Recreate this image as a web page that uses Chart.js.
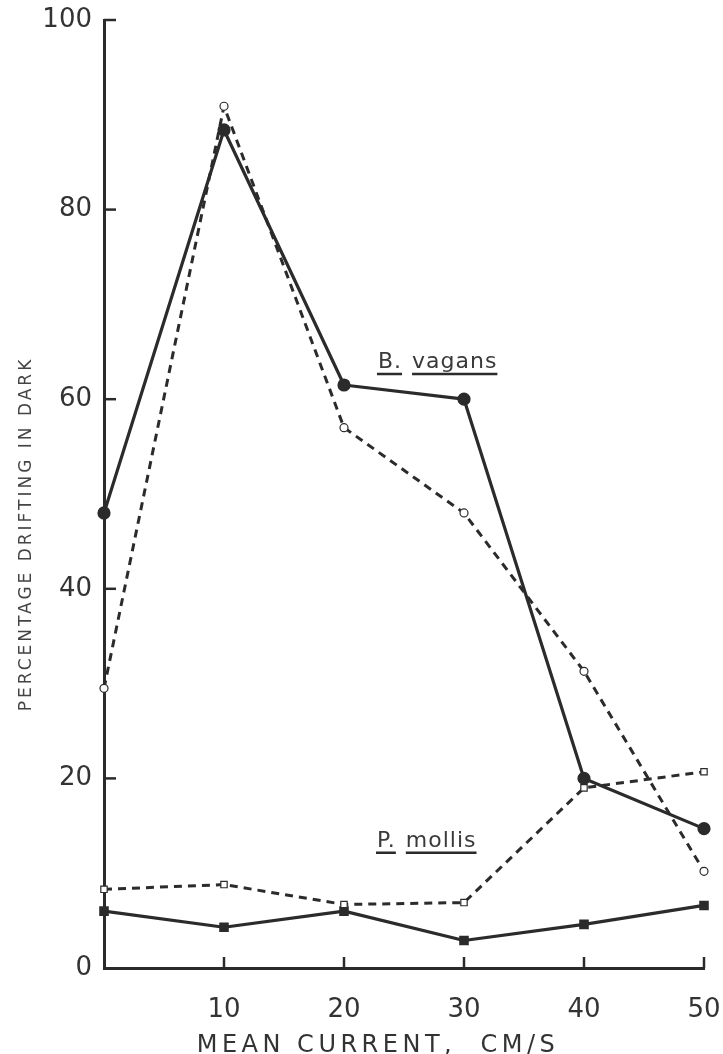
<!DOCTYPE html>
<html>
<head>
<meta charset="utf-8">
<script src="https://cdn.jsdelivr.net/npm/chart.js@4.4.1/dist/chart.umd.min.js"></script>
<style>
  html, body { margin: 0; padding: 0; background: #fff; }
  #wrap { width: 723px; height: 1054px; }
</style>
</head>
<body>
<div id="wrap"><canvas id="chart" width="723" height="1054"></canvas></div>
<script>
// Mean current (cm/s) on x
const currents = [0, 10, 20, 30, 40, 50];
// B. vagans, solid line, filled circles
const vagansSolid = [48, 88.4, 61.5, 60, 20, 14.7];
// B. vagans, dashed line, open circles
const vagansDashed = [29.5, 90.9, 57, 48, 31.3, 10.2];
// P. mollis, dashed line, open squares
const mollisDashed = [8.3, 8.8, 6.7, 6.9, 19, 20.7];
// P. mollis, solid line, filled squares
const mollisSolid = [6, 4.3, 6, 2.9, 4.6, 6.6];

const xTicks = [10, 20, 30, 40, 50];
const yTicks = [0, 20, 40, 60, 80, 100];

const ink = '#2b2b2b';
const font = "'DejaVu Sans', 'Liberation Sans', sans-serif";

function pts(ys){ return currents.map((x, i) => ({ x, y: ys[i] })); }

// inward tick marks, spaced-out axis titles, species labels
const decor = {
  id: 'decor',
  afterDraw(chart){
    const { ctx, scales: { x, y } } = chart;
    ctx.save();
    ctx.strokeStyle = ink;
    ctx.lineWidth = 2.5;
    const x0 = x.getPixelForValue(0), y0 = y.getPixelForValue(0);
    xTicks.forEach(v => {
      const px = x.getPixelForValue(v);
      ctx.beginPath(); ctx.moveTo(px, y0); ctx.lineTo(px, y0 - 11); ctx.stroke();
    });
    yTicks.slice(1).forEach(v => {
      const py = y.getPixelForValue(v);
      ctx.beginPath(); ctx.moveTo(x0, py); ctx.lineTo(x0 + 12, py); ctx.stroke();
    });

    // axis titles
    ctx.fillStyle = '#333';
    ctx.textAlign = 'center';
    ctx.textBaseline = 'alphabetic';
    ctx.font = '24px ' + font;
    ctx.letterSpacing = '4.5px';
    ctx.fillText('MEAN CURRENT,  CM/S', 378, 1052);

    ctx.save();
    ctx.fillStyle = '#444';
    ctx.font = '17px ' + font;
    ctx.letterSpacing = '3px';
    ctx.translate(31, 534);
    ctx.rotate(-Math.PI / 2);
    ctx.fillText('PERCENTAGE DRIFTING IN DARK', 0, 0);
    ctx.restore();

    // species names, underlined in two parts
    ctx.fillStyle = '#3a3a3a';
    ctx.font = '22px ' + font;
    ctx.letterSpacing = '1px';
    ctx.textAlign = 'left';
    function label(genus, species, vx, vy){
      const lx = x.getPixelForValue(vx), ly = y.getPixelForValue(vy);
      const g = genus + '.';
      ctx.fillText(g, lx, ly);
      const gw = ctx.measureText(g).width;
      const sx = lx + gw + 10;
      ctx.fillText(species, sx, ly);
      const sw = ctx.measureText(species).width;
      ctx.lineWidth = 2.5;
      ctx.beginPath();
      ctx.moveTo(lx - 1, ly + 6); ctx.lineTo(lx + gw, ly + 6);
      ctx.moveTo(sx, ly + 6); ctx.lineTo(sx + sw, ly + 6);
      ctx.stroke();
    }
    label('B', 'vagans', 22.83, 63.3);
    label('P', 'mollis', 22.75, 12.8);
    ctx.restore();
  }
};

new Chart(document.getElementById('chart'), {
  type: 'scatter',
  data: {
    datasets: [
      {
        label: 'B. vagans (dashed)',
        data: pts(vagansDashed),
        showLine: true,
        borderColor: ink,
        borderWidth: 3,
        borderDash: [8, 6],
        borderJoinStyle: 'round',
        pointStyle: 'circle',
        pointRadius: 4,
        pointBackgroundColor: '#fff',
        pointBorderColor: ink,
        pointBorderWidth: 1.2,
        clip: false,
      },
      {
        label: 'P. mollis (dashed)',
        data: pts(mollisDashed),
        showLine: true,
        borderColor: ink,
        borderWidth: 3,
        borderDash: [8, 6],
        borderJoinStyle: 'round',
        pointStyle: 'rect',
        pointRadius: 4.5,
        pointBackgroundColor: '#fff',
        pointBorderColor: ink,
        pointBorderWidth: 1.2,
        clip: false,
      },
      {
        label: 'B. vagans',
        data: pts(vagansSolid),
        showLine: true,
        borderColor: ink,
        borderWidth: 3.2,
        borderJoinStyle: 'round',
        pointStyle: 'circle',
        pointRadius: 5,
        pointBackgroundColor: ink,
        pointBorderColor: ink,
        clip: false,
      },
      {
        label: 'P. mollis',
        data: pts(mollisSolid),
        showLine: true,
        borderColor: ink,
        borderWidth: 3.2,
        borderJoinStyle: 'round',
        pointStyle: 'rect',
        pointRadius: 4.5,
        pointBackgroundColor: ink,
        pointBorderColor: ink,
        clip: false,
      },
    ]
  },
  options: {
    responsive: false,
    animation: false,
    layout: { padding: { left: 10, right: 19, top: 20, bottom: 4 } },
    plugins: { legend: { display: false }, tooltip: { enabled: false } },
    scales: {
      x: {
        type: 'linear',
        min: 0, max: 50,
        afterBuildTicks: s => { s.ticks = currents.map(v => ({ value: v })); },
        afterFit: s => { s.height = 82; s.paddingLeft = 0; s.paddingRight = 0; },
        grid: { display: false, drawTicks: false },
        border: { display: true, color: ink, width: 3 },
        ticks: {
          color: '#333', padding: 27, maxRotation: 0,
          font: { family: font, size: 26 },
          callback: v => v === 0 ? '' : String(v),
        },
      },
      y: {
        min: 0, max: 100,
        afterBuildTicks: s => { s.ticks = yTicks.map(v => ({ value: v })); },
        afterFit: s => { s.width = 94; s.paddingTop = 0; s.paddingBottom = 0; },
        grid: { display: false, drawTicks: false },
        border: { display: true, color: ink, width: 3 },
        ticks: {
          color: '#333', padding: 12,
          font: { family: font, size: 26 },
        },
      },
    },
  },
  plugins: [decor],
});
</script>
</body>
</html>
